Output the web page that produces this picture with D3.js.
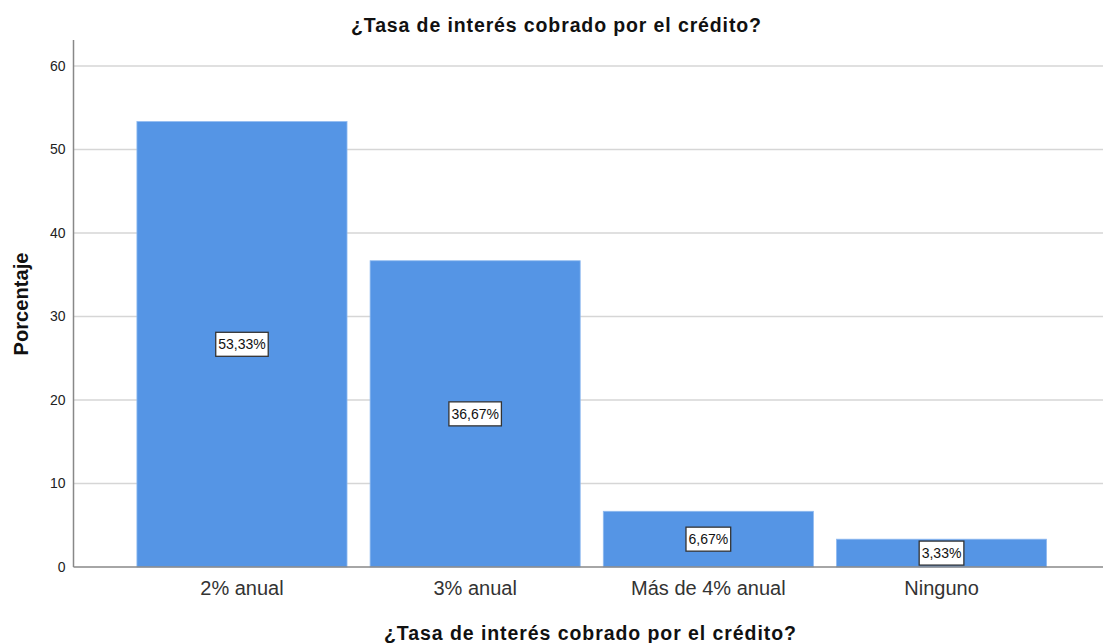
<!DOCTYPE html>
<html>
<head>
<meta charset="utf-8">
<script src="https://cdn.jsdelivr.net/npm/d3@7"></script>
<style>
  html, body { margin: 0; padding: 0; background: #fff; }
  svg { display: block; font-family: Arial, "Liberation Sans", sans-serif; }
</style>
</head>
<body>
<svg id="chart" width="1103" height="643"></svg>
<script>
// data
const categories = ['2% anual', '3% anual', 'Más de 4% anual', 'Ninguno'];
const percents = [53.33, 36.67, 6.67, 3.33];
const valueLabels = ['53,33%', '36,67%', '6,67%', '3,33%'];
const yTicks = [0, 10, 20, 30, 40, 50, 60];
const chartTitle = '¿Tasa de interés cobrado por el crédito?';
const yTitle = 'Porcentaje';

const W = 1103, H = 643;
const m = { left: 73.5, right: 1110, top: 40, bottom: 567 };
const FONT = 'Arial, "Liberation Sans", sans-serif';

const svg = d3.select('#chart');

const x = d3.scaleBand().domain(categories).range([m.left, m.right])
  .paddingInner(0.099).paddingOuter(0.272);
const y = d3.scaleLinear().domain([0, 63.1]).range([m.bottom, m.top]);

// gridlines
svg.append('g').selectAll('line').data(yTicks.filter(d => d > 0)).enter().append('line')
  .attr('x1', m.left).attr('x2', W)
  .attr('y1', d => y(d)).attr('y2', d => y(d))
  .attr('stroke', '#d6d6d6').attr('stroke-width', 1.5);

// bars
svg.append('g').selectAll('rect').data(categories).enter().append('rect')
  .attr('x', d => x(d))
  .attr('y', (d, i) => y(percents[i]))
  .attr('width', x.bandwidth())
  .attr('height', (d, i) => y(0) - y(percents[i]))
  .attr('fill', '#5595e5')
  .attr('stroke', '#8fbaf0').attr('stroke-width', 0.8);

// y axis
const yAxis = svg.append('g').attr('transform', `translate(${m.left},0)`)
  .call(d3.axisLeft(y).tickValues(yTicks).tickSize(0).tickPadding(8));
yAxis.select('.domain').remove();
yAxis.selectAll('text').attr('font-size', 14).attr('fill', '#222').attr('font-family', FONT);
svg.append('line').attr('x1', m.left).attr('x2', m.left).attr('y1', m.top).attr('y2', m.bottom)
  .attr('stroke', '#888').attr('stroke-width', 1.5);

// x axis
const xAxis = svg.append('g').attr('transform', `translate(0,${m.bottom})`)
  .call(d3.axisBottom(x).tickSize(0).tickPadding(14));
xAxis.select('.domain').remove();
xAxis.selectAll('text').attr('font-size', 20).attr('fill', '#333').attr('font-family', FONT);
svg.append('line').attr('x1', m.left).attr('x2', W).attr('y1', m.bottom).attr('y2', m.bottom)
  .attr('stroke', '#888').attr('stroke-width', 1.5);

// value labels
const lbl = svg.append('g').selectAll('g').data(categories).enter().append('g')
  .attr('transform', (d, i) => `translate(${x(d) + x.bandwidth() / 2},${y(percents[i] / 2)})`);
lbl.append('text').text((d, i) => valueLabels[i])
  .attr('text-anchor', 'middle').attr('dy', '0.36em')
  .attr('font-size', 14).attr('fill', '#111');
lbl.each(function () {
  const g = d3.select(this);
  const bb = g.select('text').node().getBBox();
  g.insert('rect', 'text')
    .attr('x', bb.x - 2.5).attr('y', -12)
    .attr('width', bb.width + 5).attr('height', 24)
    .attr('fill', '#fff').attr('stroke', '#333').attr('stroke-width', 1.3);
});

// titles
svg.append('text').attr('x', 556).attr('y', 32).attr('text-anchor', 'middle')
  .attr('font-size', 19.5).attr('font-weight', 'bold').attr('fill', '#111')
  .attr('textLength', 410).attr('lengthAdjust', 'spacing').text(chartTitle);
svg.append('text').attr('x', 590).attr('y', 640).attr('text-anchor', 'middle')
  .attr('font-size', 19.5).attr('font-weight', 'bold').attr('fill', '#111')
  .attr('textLength', 412).attr('lengthAdjust', 'spacing').text(chartTitle);
svg.append('text').attr('transform', 'translate(28,304) rotate(-90)').attr('text-anchor', 'middle')
  .attr('font-size', 20).attr('font-weight', 'bold').attr('fill', '#111')
  .attr('textLength', 103).attr('lengthAdjust', 'spacing').text(yTitle);
</script>
</body>
</html>
